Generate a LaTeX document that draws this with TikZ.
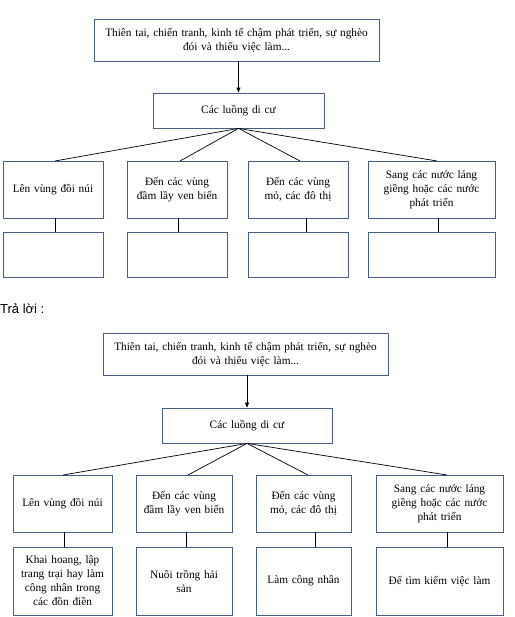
\documentclass[tikz,border=0pt]{standalone}
\usepackage{fontspec}
\setmainfont{Liberation Serif}
\newfontfamily\arialfont{Liberation Sans}
\usetikzlibrary{arrows.meta}
\definecolor{boxline}{RGB}{70,95,135}
\tikzset{
  box/.style={draw=boxline, line width=0.8pt, inner sep=0pt, align=center,
    font=\fontsize{11.3}{14}\selectfont},
  link/.style={draw=black, line width=0.7pt},
  arrowlink/.style={link, -{Triangle[length=5pt,width=4pt]}}
}
\newcommand{\bx}[6]{% name, x1, y1, x2, y2, text
  \node[box, minimum width={(#4-#2)*1pt}, minimum height={(#5-#3)*1pt},
        text width={(#4-#2-4)*1pt}] (#1) at ({(#2+#4)/2},{(#3+#5)/2}) {#6};}
\begin{document}
\begin{tikzpicture}[x=1pt,y=-1pt]
\useasboundingbox (0,0) rectangle (514,617);
% ---------- upper (question) diagram ----------
\bx{qtop}{94}{19}{379}{61}{Thiên tai, chiến tranh, kinh tế chậm phát triển, sự nghèo\\đói và thiếu việc làm...}
\bx{qmid}{153}{93}{324}{128}{Các luồng di cư\\[6pt]}
\bx{qa}{3}{161}{103}{218}{Lên vùng đồi núi\\[4pt]}
\bx{qb}{127}{161}{227}{218}{Đến các vùng\\đầm lầy ven biển\\[2pt]}
\bx{qc}{248}{161}{348}{218}{Đến các vùng\\mỏ, các đô thị\\[2pt]}
\bx{qd}{368}{161}{495}{218}{Sang các nước láng\\giềng hoặc các nước\\phát triển}
\bx{qa2}{3}{232}{103}{277}{}
\bx{qb2}{127}{232}{227}{277}{}
\bx{qc2}{248}{232}{348}{277}{}
\bx{qd2}{368}{232}{495}{277}{}
\draw[arrowlink] (qtop.south -| qmid.north) -- (qmid.north);
\coordinate (qhub) at (qmid.south);
\draw[link] (qhub) -- (55,161) coordinate (qae);
\draw[link] (qhub) -- (180,161) coordinate (qbe);
\draw[link] (qhub) -- (300,161) coordinate (qce);
\draw[link] (qhub) -- (437,161) coordinate (qde);
\draw[link] (qa.south -| 55,0) -- (qa2.north -| 55,0);
\draw[link] (qb.south -| 178,0) -- (qb2.north -| 178,0);
\draw[link] (qc.south -| 306,0) -- (qc2.north -| 306,0);
\draw[link] (qd.south -| 438,0) -- (qd2.north -| 438,0);
% ---------- answer label ----------
\node[anchor=west, inner sep=0pt, font=\arialfont\fontsize{13}{15}\selectfont] (ans) at (0,309) {Trả lời :};
% ---------- lower (answer) diagram ----------
\bx{atop}{103}{333}{388}{375}{Thiên tai, chiến tranh, kinh tế chậm phát triển, sự nghèo\\đói và thiếu việc làm...}
\bx{amid}{162}{408}{332}{443}{Các luồng di cư\\[6pt]}
\bx{aa}{13}{475}{112}{532}{Lên vùng đồi núi}
\bx{ab}{136}{475}{232}{532}{Đến các vùng\\đầm lầy ven biển\\[2pt]}
\bx{ac}{256}{475}{351}{532}{Đến các vùng\\mỏ, các đô thị\\[2pt]}
\bx{ad}{376}{475}{503}{532}{Sang các nước láng\\giềng hoặc các nước\\phát triển}
\bx{aa2}{13}{547}{112}{615}{Khai hoang, lập\\trang trại hay làm\\công nhân trong\\các đồn điền}
\bx{ab2}{136}{547}{232}{615}{Nuôi trồng hải\\sản\\[6pt]}
\bx{ac2}{256}{547}{351}{615}{Làm công nhân\\[6pt]}
\bx{ad2}{376}{547}{503}{615}{Để tìm kiếm việc làm\\[6pt]}
\draw[arrowlink] (atop.south -| amid.north) -- (amid.north);
\coordinate (ahub) at (amid.south);
\draw[link] (ahub) -- (63,475) coordinate (aae);
\draw[link] (ahub) -- (188,475) coordinate (abe);
\draw[link] (ahub) -- (308,475) coordinate (ace);
\draw[link] (ahub) -- (447,475) coordinate (ade);
\draw[link] (aa.south -| 64,0) -- (aa2.north -| 64,0);
\draw[link] (ab.south -| 186,0) -- (ab2.north -| 186,0);
\draw[link] (ac.south -| 315,0) -- (ac2.north -| 315,0);
\draw[link] (ad.south -| 447,0) -- (ad2.north -| 447,0);
\end{tikzpicture}
\end{document}
